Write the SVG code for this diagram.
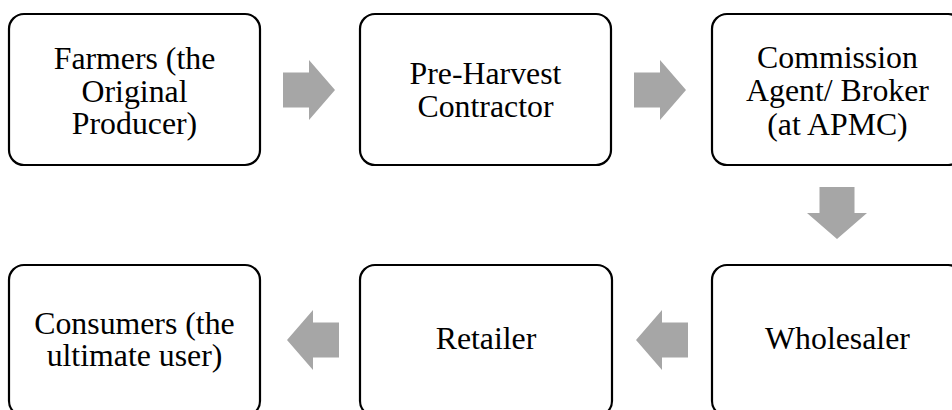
<svg xmlns="http://www.w3.org/2000/svg" width="952" height="410" viewBox="0 0 952 410">
<style>
.box{fill:#fff;stroke:#000;stroke-width:2.2}
.arr{fill:#a6a6a6}
.t{font-family:'Liberation Serif','Times New Roman',Times,serif;font-size:31.8px;fill:#000;text-anchor:middle}
</style>
<defs>
<path id="ar" d="M0,-17.5 H26 V-30 L52,0 L26,30 V17.5 H0 Z"/>
</defs>
<rect width="952" height="410" fill="#fff"/>
<g id="connectors">
<use href="#ar" class="arr" transform="translate(283,90)"/>
<use href="#ar" class="arr" transform="translate(634,90)"/>
<use href="#ar" class="arr" transform="translate(837,187) rotate(90)"/>
<use href="#ar" class="arr" transform="translate(688,340) rotate(180)"/>
<use href="#ar" class="arr" transform="translate(339,340) rotate(180)"/>
</g>
<g id="farmers">
<rect class="box" x="9" y="14" width="251" height="151" rx="15"/>
<text class="t" x="134.5" y="69">Farmers (the</text>
<text class="t" x="134.5" y="101.5">Original</text>
<text class="t" x="134.5" y="134">Producer)</text>
</g>
<g id="preharvest">
<rect class="box" x="360" y="14" width="251" height="151" rx="15"/>
<text class="t" x="485.5" y="84">Pre-Harvest</text>
<text class="t" x="485.5" y="116.5">Contractor</text>
</g>
<g id="commission">
<rect class="box" x="712" y="14" width="251" height="151" rx="15"/>
<text class="t" x="837.5" y="67.5">Commission</text>
<text class="t" x="837.5" y="101">Agent/ Broker</text>
<text class="t" x="837.5" y="134.5">(at APMC)</text>
</g>
<g id="wholesaler">
<rect class="box" x="712" y="265" width="251" height="151" rx="15"/>
<text class="t" x="837.5" y="349">Wholesaler</text>
</g>
<g id="retailer">
<rect class="box" x="360" y="265" width="252" height="151" rx="15"/>
<text class="t" x="486" y="349">Retailer</text>
</g>
<g id="consumers">
<rect class="box" x="9" y="265" width="251" height="151" rx="15"/>
<text class="t" x="134.5" y="333.5">Consumers (the</text>
<text class="t" x="134.5" y="365.5">ultimate user)</text>
</g>
</svg>
